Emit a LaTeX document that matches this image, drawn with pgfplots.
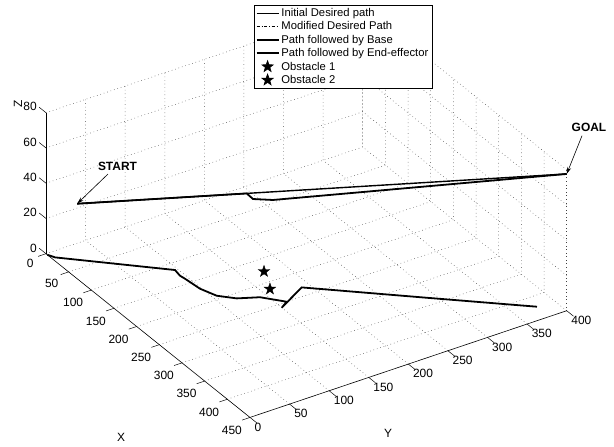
\documentclass[border=0pt]{standalone}
\usepackage{pgfplots}
\pgfplotsset{compat=1.18}
\usepackage{fontspec}
\setmainfont{Liberation Sans}
\usetikzlibrary{arrows.meta}

\pgfdeclareplotmark{pstar}{%
  \pgfpathmoveto{\pgfpointpolar{90}{\pgfplotmarksize}}%
  \pgfpathlineto{\pgfpointpolar{126}{0.4\pgfplotmarksize}}%
  \pgfpathlineto{\pgfpointpolar{162}{\pgfplotmarksize}}%
  \pgfpathlineto{\pgfpointpolar{198}{0.4\pgfplotmarksize}}%
  \pgfpathlineto{\pgfpointpolar{234}{\pgfplotmarksize}}%
  \pgfpathlineto{\pgfpointpolar{270}{0.4\pgfplotmarksize}}%
  \pgfpathlineto{\pgfpointpolar{306}{\pgfplotmarksize}}%
  \pgfpathlineto{\pgfpointpolar{342}{0.4\pgfplotmarksize}}%
  \pgfpathlineto{\pgfpointpolar{18}{\pgfplotmarksize}}%
  \pgfpathlineto{\pgfpointpolar{54}{0.4\pgfplotmarksize}}%
  \pgfpathclose
  \pgfusepathqfillstroke}

\pgfplotstableread{
x y z
3 0 0
13 4 0
115.7 96.7 0
130 94.8 0
139.1 95.9 0
168.2 98.2 0
192.7 105.3 0
210.9 120.1 0
223.8 142.1 0
250.0 160.9 0
258.3 149.8 0
232.0 190.1 0
336.3 292.5 0
422.9 378.0 0
}\basepath

\pgfplotstableread{
x y z
60 5 40
450 400 77.6
}\initpath

\pgfplotstableread{
x y z
60 5 40
195.1 141.8 53.0
200.1 146.9 50.1
216.0 163.0 50.4
450 400 77.6
}\modpath

\newcommand\lf{\fontsize{11.3}{12.6}\selectfont}
\tikzset{gridl/.style={black!75, line width=0.5pt, dash pattern=on 0.6pt off 3pt}}
\begin{document}
\begin{tikzpicture}
\begin{axis}[
  x={(0.4533bp,-0.3638bp)}, y={(0.7918bp,0.2668bp)}, z={(0bp,1.7625bp)},
  xmin=0,xmax=450,ymin=0,ymax=400,zmin=0,zmax=80,
  xtick={0,50,...,450}, ytick={0,50,...,400}, ztick={0,20,...,80},
  axis line style={draw=none},
  tick align=outside,
  major tick length=6bp,
  major tick style={draw=none},
  ticklabel style={font=\fontsize{12}{14}\selectfont},
  xticklabel style={xshift=-4bp, yshift=1bp},
  yticklabel style={anchor=north west, xshift=-3.5bp, yshift=2bp},
  zticklabel style={yshift=6bp},
  /pgf/number format/assume math mode=true,
  clip=false,
  legend cell align=left,
  legend style={draw=black, line width=0.6pt, at={(axis cs:0,375.1,84.5)}, anchor=north,
    font=\lf, inner sep=1.5pt, row sep=-0.3pt},
  legend image code/.code={\draw[mark repeat=2,mark phase=2,#1] plot coordinates {(0bp,0bp) (11bp,0bp) (22bp,0bp)};},
]
% grid (dotted, back planes)
\pgfplotsinvokeforeach{0,50,...,400}{
  \draw[gridl] (axis cs:#1,0,0) -- (axis cs:#1,400,0) -- (axis cs:#1,400,80);
}
\draw[gridl] (axis cs:450,400,0) -- (axis cs:450,400,80);
\pgfplotsinvokeforeach{50,100,...,400}{
  \draw[gridl] (axis cs:450,#1,0) -- (axis cs:0,#1,0) -- (axis cs:0,#1,80);
}
\pgfplotsinvokeforeach{20,40,...,80}{
  \draw[gridl] (axis cs:0,0,#1) -- (axis cs:0,400,#1) -- (axis cs:450,400,#1);
}
% ticks
\pgfplotsinvokeforeach{0,50,...,450}{
  \draw[black, line width=0.5pt] (axis cs:#1,0,0) -- (axis cs:#1,-10,0);
}
\pgfplotsinvokeforeach{0,50,...,400}{
  \draw[black, line width=0.5pt] (axis cs:450,#1,0) -- (axis cs:465,#1,0);
}
\pgfplotsinvokeforeach{0,20,...,80}{
  \draw[black, line width=0.5pt] (axis cs:0,0,#1) -- (axis cs:-15,0,#1);
}

\addplot3[black, line width=1.4pt] table[x=x,y=y,z=z] {\initpath};
\addlegendentry{\lf Initial Desired path}
\addplot3[black, line width=0.6pt, dash dot] table[x=x,y=y,z=z] {\modpath};
\addlegendentry{\lf Modified Desired Path}
\addplot3[black, line width=1.8pt] table[x=x,y=y,z=z] {\basepath};
\addlegendentry{\lf Path followed by Base}
\addplot3[black, line width=1.8pt] table[x=x,y=y,z=z] {\modpath};
\addlegendentry{\lf Path followed by End-effector}
\addplot3[only marks, mark=pstar, mark size=6bp, black, fill=black] coordinates {(176.5,174.3,0)};
\addlegendentry{\lf Obstacle 1}
\addplot3[only marks, mark=pstar, mark size=6bp, black, fill=black] coordinates {(214.4,160.1,0)};
\addlegendentry{\lf Obstacle 2}

\draw[black, line width=0.6pt] (axis cs:0,0,0) -- (axis cs:450,0,0) -- (axis cs:450,400,0);
\draw[black, line width=0.6pt] (axis cs:0,0,0) -- (axis cs:0,0,80);
\coordinate (O) at (axis cs:0,0,0);
\coordinate (S) at (axis cs:60,5,40);
\coordinate (G) at (axis cs:450,400,77.6);
\end{axis}
\draw[-{Stealth[length=7bp,width=4bp]}, line width=0.6pt] ([shift={(62bp,79.7bp)}]O) -- (S);
\draw[-{Stealth[length=7bp,width=4bp]}, line width=0.6pt] ([shift={(536bp,118bp)}]O) -- (G);
\node[font=\fontsize{12}{14}\selectfont\bfseries] at ([shift={(71.5bp,87.5bp)}]O) {START};
\node[font=\fontsize{12}{14}\selectfont\bfseries] at ([shift={(543bp,126bp)}]O) {GOAL};
\node[font=\fontsize{12}{14}\selectfont] at ([shift={(75bp,-184bp)}]O) {X};
\node[font=\fontsize{12}{14}\selectfont] at ([shift={(342bp,-180bp)}]O) {Y};
\node[font=\fontsize{12}{14}\selectfont, rotate=90] at ([shift={(-28bp,150bp)}]O) {Z};
\path ([shift={(-46bp,253bp)}]O) rectangle ([shift={(568bp,-193bp)}]O);
\end{tikzpicture}
\end{document}
